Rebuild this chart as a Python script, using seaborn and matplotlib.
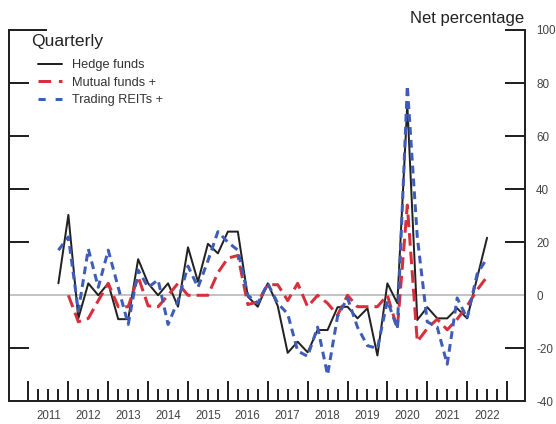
import numpy as np
import pandas as pd
import matplotlib
matplotlib.use("Agg")
import matplotlib.pyplot as plt
import seaborn as sns
from matplotlib.lines import Line2D

# ---------------- data ----------------
quarters = pd.period_range("2011Q4", "2022Q3", freq="Q")

hedge_funds = [4.5, 30.3, -8.7, 4.5, 0, 4.5, -9, -9, 13.6, 4.5, 0, 4.5, -4.3, 18.1,
               5.1, 19.4, 15.8, 24, 24, -0.5, -4.3, 4.5, -4, -21.7, -17.5, -21.5,
               -13.1, -13.1, -4.5, -4.3, -8.7, -4.9, -22.7, 4.5, -3, 72, -9.3, -4.5,
               -8.7, -8.7, -4.9, -8.7, 6.5, 21.7]

mutual_funds = [np.nan, 0, -10, -8.7, -2, 4.5, -4.3, -4.3, 7, -4, -4.3, 0, 4.5, 0,
                0, 0, 8.5, 14, 15, -3.5, -2.5, 4, 4, -2, 4.5, -4.3, 0, -3, -7.5, 0,
                -4.3, -4.3, -4.3, 0, -12.5, 34, -17.5, -12.5, -9, -13, -9, -4, 2, 7]

trading_reits = [17, 22, -6, 17.5, 3, 17, 3, -11, 9.5, 3, 5.8, -11, -2, 11, 3, 13,
                 24, 20, 17, 0, -3, 4.5, -3, -7, -21, -23, -12, -30, -8, -1, -12,
                 -19, -20, -2, -12.5, 79, 22, -10, -12, -26, -1, -8.7, 8, 14]

series_names = ["Hedge funds", "Mutual funds +", "Trading REITs +"]
year_labels = [str(y) for y in range(2011, 2023)]
y_ticks = [-40, -20, 0, 20, 40, 60, 80, 100]

# decimal-year positions for each quarter
xpos = np.array([p.year + (p.quarter - 1) / 4 for p in quarters])
df = pd.DataFrame({"x": xpos, series_names[0]: hedge_funds,
                   series_names[1]: mutual_funds, series_names[2]: trading_reits})

# ---------------- style ----------------
sns.set_style("white")
plt.rcParams["font.family"] = ["Liberation Sans", "DejaVu Sans"]

PX = 72 / 100.0  # points per pixel at dpi 100
BLACK = "#222222"
RED = "#d7303c"
BLUE = "#3f5db8"
TXT = "#444444"

fig = plt.figure(figsize=(5.56, 4.24), dpi=100)
ax = fig.add_axes([9 / 556, (424 - 401.4) / 424, 516 / 556, 371.4 / 424])

ax.axhline(0, color="#c4c4c4", lw=2 * PX, zorder=1)

sns.lineplot(data=df, x="x", y=series_names[0], ax=ax, color=BLACK,
             lw=2 * PX, zorder=3, label=series_names[0])
sns.lineplot(data=df.dropna(subset=[series_names[1]]), x="x", y=series_names[1],
             ax=ax, color=RED, lw=3 * PX, zorder=4, label=series_names[1],
             linestyle=(0, (4.2, 2.0)))
sns.lineplot(data=df, x="x", y=series_names[2], ax=ax, color=BLUE,
             lw=3 * PX, zorder=5, label=series_names[2],
             linestyle=(0, (2.6, 1.7)))

ax.set_xlabel("")
ax.set_ylabel("")

for side in ["left", "right", "bottom"]:
    ax.spines[side].set_visible(True)
    ax.spines[side].set_color(BLACK)
    ax.spines[side].set_linewidth(2 * PX)
ax.spines["top"].set_visible(False)

# y axis: ticks both sides inward, labels on right
ax.set_yticks(y_ticks)
ax.set_yticklabels([f"{v}" for v in y_ticks])
ax.tick_params(axis="y", which="major", left=True, right=True, labelleft=False,
               labelright=True, direction="in", length=20 * PX, width=2 * PX,
               color=BLACK, labelsize=8.4, labelcolor=TXT, pad=8)

# x axis: long year ticks, short quarter ticks, labels mid-year
years = np.arange(2011, 2024)
ax.set_xticks(years)
ax.set_xticklabels([])
qticks = [y + q / 4 for y in range(2011, 2023) for q in (1, 2, 3)]
ax.set_xticks(qticks, minor=True)
ax.tick_params(axis="x", which="major", bottom=True, direction="in",
               length=20 * PX, width=2 * PX, color=BLACK)
ax.tick_params(axis="x", which="minor", bottom=True, direction="in",
               length=12 * PX, width=2 * PX, color=BLACK)

# limits set after ticks (set_xticks can widen the view)
ax.set_xlim(2011 - 19.5 / 39.88, 2023 + 18 / 39.88)
ax.set_ylim(-40, 100)

sec = ax.secondary_xaxis("bottom")
sec.set_xticks(np.arange(2011, 2023) + 0.5)
sec.set_xticklabels(year_labels)
sec.tick_params(length=0, labelsize=8.3, labelcolor=TXT, pad=6)
sec.spines["bottom"].set_visible(False)

# extended top-left marker line
ax.plot([0, (46.7 - 9) / 516], [1, 1], transform=ax.transAxes, color=BLACK,
        lw=2 * PX, clip_on=False, solid_capstyle="butt")

# legend
handles = [Line2D([], [], color=BLACK, lw=2 * PX),
           Line2D([], [], color=RED, lw=3 * PX, linestyle=(0, (4.2, 2.6))),
           Line2D([], [], color=BLUE, lw=3 * PX, linestyle=(0, (2.4, 3.3)))]
leg = ax.legend(handles, series_names, loc="upper left",
                bbox_to_anchor=((38 - 9) / 516, (401.4 - 59) / 371.4),
                frameon=False, borderpad=0, borderaxespad=0, fontsize=9.2,
                handlelength=1.88, handletextpad=0.8, labelspacing=0.45,
                labelcolor="#333333")

ax.text((31 - 9) / 516, (401.4 - 46) / 371.4, "Quarterly", transform=ax.transAxes,
        fontsize=12.6, color=BLACK, ha="left", va="baseline")

fig.text(524 / 556, 1 - 18 / 424, "Net percentage", fontsize=12, color=BLACK,
         ha="right", va="center")

fig.savefig("out.png", dpi=100)
